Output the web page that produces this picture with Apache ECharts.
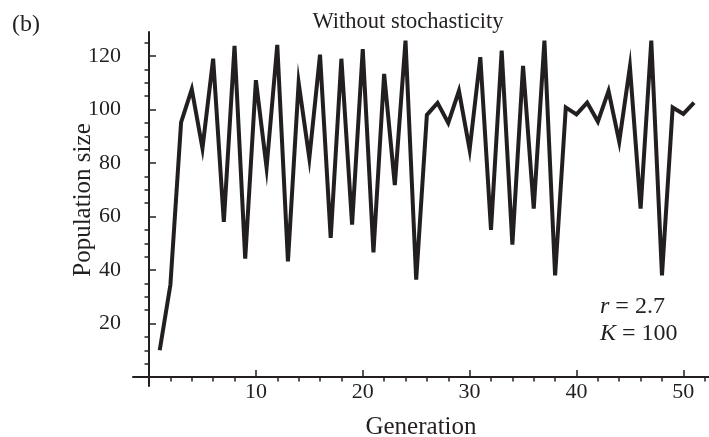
<!DOCTYPE html>
<html>
<head>
<meta charset="utf-8">
<script src="https://cdn.jsdelivr.net/npm/echarts@6/dist/echarts.min.js"></script>
<style>
  html, body { margin: 0; padding: 0; background: #fff; }
  #mainArea { width: 709px; height: 437px; }
</style>
</head>
<body>
<div id="mainArea"></div>
<script>
// values
var generations = [1, 2, 3, 4, 5, 6, 7, 8, 9, 10, 11, 12, 13, 14, 15, 16, 17, 18, 19, 20,
	21, 22, 23, 24, 25, 26, 27, 28, 29, 30, 31, 32, 33, 34, 35, 36, 37, 38, 39, 40,
	41, 42, 43, 44, 45, 46, 47, 48, 49, 50, 51];
var populationSize = [10, 34.5, 95.2, 107.6, 85.5, 119, 58, 123.8, 44.3, 111,
	78.3, 124.2, 43.2, 110, 81.8, 120.5, 52, 119, 57, 122.6,
	46.6, 113.3, 71.8, 125.8, 36.4, 98, 102.5, 95, 107, 85,
	119.6, 55, 122, 49.5, 116.3, 63, 125.8, 38, 100.8, 98.2,
	102.6, 95.5, 107, 88, 116, 63, 125.8, 38, 100.8, 98.4, 102.6];

var xMajorTicks = [10, 20, 30, 40, 50];
var xMinorTicks = [2, 4, 6, 8, 12, 14, 16, 18, 22, 24, 26, 28, 32, 34, 36, 38, 42, 44, 46, 48, 52];
var yMajorTicks = [20, 40, 60, 80, 100, 120];
var yMinorTicks = [5, 10, 15, 25, 30, 35, 45, 50, 55, 65, 70, 75, 85, 90, 95, 105, 110, 115, 125];

var ink = '#231f20';
var serif = '"Liberation Serif", "Times New Roman", serif';

function seriesData() {
	var d = [];
	for (var i = 0; i < generations.length; i++) {
		d.push([generations[i], populationSize[i]]);
	}
	return d;
}

function xAxisOpt(ticks, len, showLabel, showLine) {
	return {
		type: 'value',
		min: -1.5,
		max: 52.4,
		splitLine: { show: false },
		axisLine: { show: showLine, onZero: true, onZeroAxisIndex: 0, lineStyle: { color: ink, width: 2 } },
		axisTick: { show: true, inside: true, length: len, customValues: ticks, lineStyle: { color: ink, width: 1.5 } },
		axisLabel: { show: showLabel, customValues: ticks, margin: -5, color: ink, fontFamily: serif, fontSize: 22 }
	};
}

function yAxisOpt(ticks, len, showLabel, showLine) {
	return {
		type: 'value',
		min: -3.36,
		max: 129,
		splitLine: { show: false },
		axisLine: { show: showLine, onZero: true, onZeroAxisIndex: 0, lineStyle: { color: ink, width: 2 } },
		axisTick: { show: true, inside: true, length: len, customValues: ticks, lineStyle: { color: ink, width: 1.5 } },
		axisLabel: { show: showLabel, customValues: ticks, margin: 12, color: ink, fontFamily: serif, fontSize: 22 }
	};
}

var xMain = xAxisOpt(xMajorTicks, 7, true, true);
xMain.name = 'Generation';
xMain.nameLocation = 'middle';
xMain.nameGap = 29;
xMain.nameTextStyle = { color: ink, fontFamily: serif, fontSize: 25 };

var option = {
	animation: false,
	backgroundColor: '#fff',
	grid: { left: 133, right: 0, top: 32, bottom: 51, containLabel: false, outerBoundsMode: 'none' },
	xAxis: [xMain, xAxisOpt(xMinorTicks, 4.5, false, false)],
	yAxis: [yAxisOpt(yMajorTicks, 7, true, true), yAxisOpt(yMinorTicks, 4.5, false, false)],
	graphic: [
		{
			type: 'text', x: 12, y: 25,
			style: { text: '(b)', fill: ink, font: '24px ' + serif, align: 'left', verticalAlign: 'middle', textAlign: 'left', textVerticalAlign: 'middle' }
		},
		{
			type: 'text', x: 408, y: 22,
			style: { text: 'Without stochasticity', fill: ink, font: '22.5px ' + serif, align: 'center', verticalAlign: 'middle', textAlign: 'center', textVerticalAlign: 'middle' }
		},
		{
			// y axis title
			type: 'text', x: 83, y: 200, rotation: Math.PI / 2,
			style: { text: 'Population size', fill: ink, font: '25px ' + serif, align: 'center', verticalAlign: 'middle', textAlign: 'center', textVerticalAlign: 'middle' }
		},
		{
			type: 'text', x: 600, y: 307,
			style: {
				text: '{i|r} = 2.7', fill: ink, font: '24px ' + serif, align: 'left', verticalAlign: 'middle', textAlign: 'left', textVerticalAlign: 'middle',
				rich: { i: { fontStyle: 'italic', fontSize: 24, fontFamily: serif, fill: ink } }
			}
		},
		{
			type: 'text', x: 600, y: 334,
			style: {
				text: '{i|K} = 100', fill: ink, font: '24px ' + serif, align: 'left', verticalAlign: 'middle', textAlign: 'left', textVerticalAlign: 'middle',
				rich: { i: { fontStyle: 'italic', fontSize: 24, fontFamily: serif, fill: ink } }
			}
		}
	],
	series: [
		{
			type: 'line',
			xAxisIndex: 0,
			yAxisIndex: 0,
			data: seriesData(),
			showSymbol: false,
			symbol: 'none',
			lineStyle: { color: ink, width: 4, join: 'miter', miterLimit: 10 }
		}
	]
};

var myChart = echarts.init(document.getElementById('mainArea'));
myChart.setOption(option);
</script>
</body>
</html>
